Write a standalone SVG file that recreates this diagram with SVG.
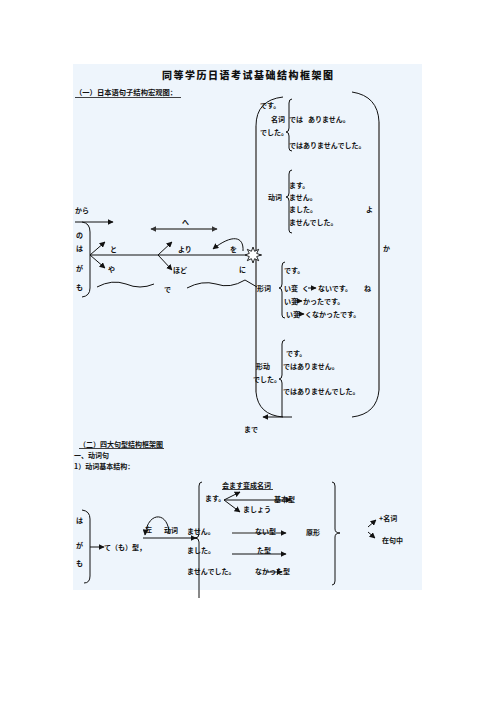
<svg xmlns="http://www.w3.org/2000/svg" width="496" height="702" viewBox="0 0 496 702">
<style>
text{font-family:"Noto Sans CJK SC","Noto Sans CJK JP",sans-serif;font-size:7px;font-weight:bold;fill:#111;dominant-baseline:central}
.title{font-size:10px;letter-spacing:1.5px;font-weight:900}
.hd{font-size:7.3px}
.ln{fill:none;stroke:#111;stroke-width:1}
.gr{fill:none;stroke:#6a6a6a;stroke-width:1.8}
.ar{fill:none;stroke:#111;stroke-width:1;marker-end:url(#ah)}
</style>
<defs>
<marker id="ah" viewBox="0 0 10 10" refX="9" refY="5" markerWidth="6" markerHeight="6" orient="auto-start-reverse" markerUnits="userSpaceOnUse"><path d="M0 0L10 5L0 10z" fill="#111"/></marker>
<marker id="ahg" viewBox="0 0 10 10" refX="9" refY="5" markerWidth="6" markerHeight="6" orient="auto-start-reverse" markerUnits="userSpaceOnUse"><path d="M0 0L10 5L0 10z" fill="#333"/></marker>
</defs>
<rect x="73" y="64" width="349" height="526" fill="#eef5fc"/>
<g id="title"><text class="title" x="162" y="74">同等学历日语考试基础结构框架图</text></g>
<g id="head1"><text class="hd" x="75" y="92">（一）日本语句子结构宏观图：</text><line x1="75" y1="97.5" x2="181" y2="97.5" stroke="#111" stroke-width="0.8"/></g>

<g id="connectors">
<!-- section 1 big brackets -->
<path class="ln" d="M283 97 Q256 100 256 126"/>
<line class="gr" x1="256" y1="126" x2="256" y2="392"/>
<path class="ln" d="M256 392 Q258 415 283 417"/>
<path class="ln" d="M352 92 Q378 96 379 122"/>
<line class="gr" x1="379" y1="122" x2="379" y2="390"/>
<path class="ln" d="M379 390 Q377 414 352 417"/>
<line class="ar" x1="292" y1="417" x2="263" y2="417"/>
<!-- inner braces -->
<path class="ln" d="M292 99 Q289 99 289 103 L289 128 Q289 132 286 132 Q289 132 289 136 L289 148 Q289 151 292 151"/>
<path class="ln" d="M292 170 Q289 170 289 174 L289 193 Q289 197 286 197 Q289 197 289 201 L289 230 Q289 233 292 233"/>
<path class="ln" d="M285 262 Q282 262 282 266 L282 284 Q282 288 279 288 Q282 288 282 292 L282 315 Q282 318 285 318"/>
<path class="ln" d="M285 340 Q282 340 282 344 L282 375 Q282 379 279 379 Q282 379 282 383 L282 417"/>
<!-- left structure -->
<line class="ar" x1="75" y1="222" x2="113" y2="222"/>
<path class="ln" d="M82 222 Q90 223 90 232 L90 288 Q90 296 82 297"/>
<line class="ln" x1="90" y1="255" x2="262" y2="255"/>
<line class="ar" x1="90" y1="255" x2="105" y2="242"/>
<line class="ar" x1="90" y1="255" x2="105" y2="268"/>
<line class="ar" x1="158" y1="255" x2="172" y2="242"/>
<line class="ar" x1="158" y1="255" x2="172" y2="270"/>
<line x1="151" y1="229" x2="217" y2="229" stroke="#555" stroke-width="1.6" marker-start="url(#ahg)" marker-end="url(#ahg)"/>
<path class="ar" d="M243 251 C244 236 232 234 213 249"/>
<path class="ln" d="M97 287 Q112 279 126 284 Q140 290 154 284"/>
<path class="ln" d="M187 288 Q202 280 216 284 Q230 289 245 280 L257 287"/>
<polygon points="253,247 254.6,251.3 258.7,249.3 256.7,253.4 261,255 256.7,256.6 258.7,260.7 254.6,258.7 253,263 251.4,258.7 247.3,260.7 249.3,256.6 245,255 249.3,253.4 247.3,249.3 251.4,251.3" fill="#fff" stroke="#111" stroke-width="0.9"/>
<!-- small adjective arrows -->
<line class="ar" x1="308" y1="288" x2="316" y2="288"/>
<line class="ar" x1="294" y1="301" x2="302" y2="301"/>
<line class="ar" x1="296" y1="314" x2="304" y2="314"/>
<!-- section 2 -->
<path class="ln" d="M82 510 Q90 511 90 519 L90 576 Q90 583 84 583"/>
<line class="ar" x1="90" y1="547" x2="104" y2="547"/>
<path class="ar" d="M169 534 C169 512 148 510 145 535"/>
<line class="ar" x1="143" y1="538" x2="196" y2="538"/>
<path class="ln" d="M202 482 Q199 482 199 486 L199 534 Q199 538 195 538 Q199 538 199 542 L199 598"/>
<line class="ar" x1="224" y1="500" x2="240" y2="492"/>
<line class="ar" x1="224" y1="500" x2="291" y2="500"/>
<line class="ar" x1="224" y1="500" x2="240" y2="512"/>
<line x1="232" y1="533" x2="286" y2="533" stroke="#666" stroke-width="1.3" marker-end="url(#ah)"/>
<line class="ar" x1="232" y1="554" x2="286" y2="554"/>
<line class="ar" x1="266" y1="572" x2="282" y2="572"/>
<path class="ln" d="M332 482 Q335 482 335 486 L335 529 Q335 533 340 533 Q335 533 335 537 L335 581 Q335 585 332 585"/>
<line class="ar" x1="368" y1="527" x2="376" y2="520"/>
<line class="ar" x1="368" y1="532" x2="375" y2="538"/>
</g>

<g id="noun"><text x="260" y="105">です。</text><text x="271" y="119">名词</text><text x="289" y="119">では</text><text x="308" y="119">ありません。</text><text x="260" y="132">でした。</text><text x="289" y="145">ではありませんでした。</text></g>
<g id="verb"><text x="289" y="185">ます。</text><text x="268" y="197">动词</text><text x="289" y="197">ません。</text><text x="289" y="209">ました。</text><text x="289" y="222">ませんでした。</text></g>
<g id="particles-end"><text x="366" y="209">よ</text><text x="383" y="248">か</text><text x="364" y="288">ね</text></g>
<g id="adj"><text x="284" y="270">です。</text><text x="257" y="288">形词</text><text x="284" y="288">い变</text><text x="302" y="288">く</text><text x="318" y="288">ないです。</text><text x="284" y="301">い变</text><text x="303" y="301">かったです。</text><text x="286" y="314">い变</text><text x="305" y="314">くなかったです。</text></g>
<g id="adjverb"><text x="286" y="353">です。</text><text x="256" y="366">形动</text><text x="283" y="366">ではありません。</text><text x="253" y="379">でした。</text><text x="283" y="391">ではありませんでした。</text></g>
<g id="made"><text x="244" y="429">まで</text></g>
<g id="left1"><text x="75" y="210">から</text><text x="76" y="235">の</text><text x="76" y="248">は</text><text x="76" y="268">が</text><text x="76" y="287">も</text><text x="110" y="249">と</text><text x="108" y="269">や</text><text x="182" y="222">へ</text><text x="178" y="249">より</text><text x="173" y="270">ほど</text><text x="230" y="249">を</text><text x="239" y="269">に</text><text x="164" y="289">で</text></g>

<g id="head2"><text x="79" y="444">（二）四大句型结构框架图</text><line x1="79" y1="448.5" x2="164" y2="448.5" stroke="#111" stroke-width="0.8"/><text x="74" y="455">一、动词句</text><text x="74" y="466">1）动词基本结构：</text></g>
<g id="left2"><text x="76" y="520">は</text><text x="76" y="545">が</text><text x="76" y="563">も</text><text x="104" y="547">て（も）型，</text></g>
<g id="verb2"><text x="145" y="529">左</text><text x="164" y="530">动词</text><text x="187" y="531">ません。</text><text x="187" y="550">ました。</text><text x="187" y="571">ませんでした。</text><text x="205" y="498">ます。</text></g>
<g id="forms"><text x="222" y="485">会ます变成名词</text><line x1="222" y1="489.5" x2="273" y2="489.5" stroke="#111" stroke-width="0.8"/><text x="274" y="499">基本型</text><text x="243" y="509">ましょう</text><text x="255" y="531">ない型</text><text x="257" y="550">た型</text><text x="255" y="571">なかった型</text></g>
<g id="genkei"><text x="306" y="532">原形</text></g>
<g id="usage"><text x="379" y="518">+名词</text><text x="382" y="540">在句中</text></g>
</svg>
